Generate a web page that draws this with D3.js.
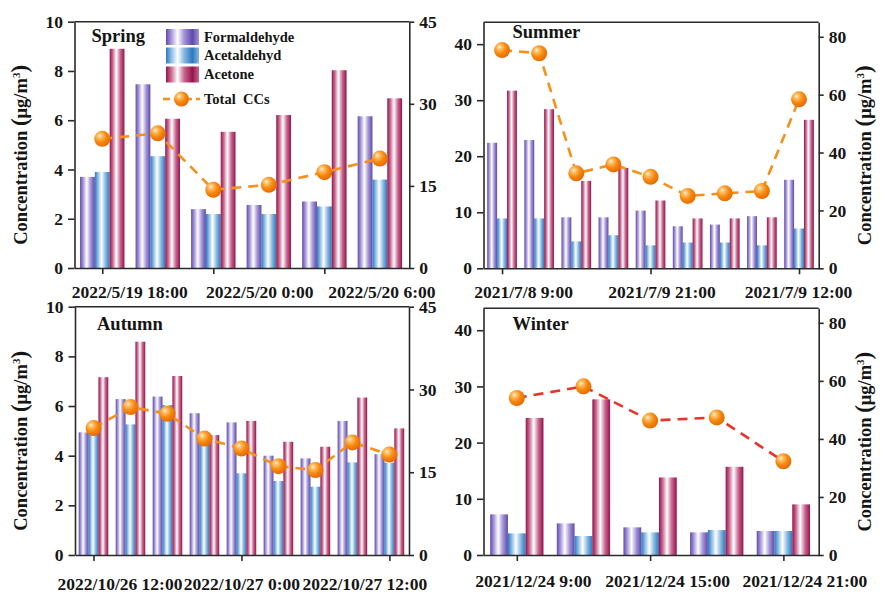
<!DOCTYPE html>
<html>
<head>
<meta charset="utf-8">
<script src="https://cdn.jsdelivr.net/npm/d3@7"></script>
<style>
  body { margin: 0; background: #fff; }
  svg text { font-family: "Liberation Serif", "Times New Roman", serif; font-weight: bold; fill: #151515; }
</style>
</head>
<body>
<svg id="chart" width="882" height="594"></svg>
<script>
// ---- Spring (2022/5/19 - 5/20) ----
const springTickLabels = ["2022/5/19 18:00", "2022/5/20 0:00", "2022/5/20 6:00"];
const springTickIndex = [0, 2, 4];
const springFormaldehyde = [3.70, 7.46, 2.39, 2.56, 2.70, 6.16];
const springAcetaldehyde = [3.90, 4.54, 2.19, 2.19, 2.50, 3.59];
const springAcetone = [8.90, 6.06, 5.53, 6.21, 8.03, 6.89];
const springTotal = [23.6, 24.6, 14.3, 15.2, 17.5, 20.0];

// ---- Summer (2021/7/8 - 7/9) ----
const summerTickLabels = ["2021/7/8 9:00", "2021/7/9 21:00", "2021/7/9 12:00"];
const summerTickIndex = [0, 4, 8];
const summerFormaldehyde = [22.4, 22.9, 9.1, 9.1, 10.3, 7.5, 7.8, 9.3, 15.8];
const summerAcetaldehyde = [8.9, 8.9, 4.8, 5.9, 4.1, 4.6, 4.6, 4.1, 7.1];
const summerAcetone = [31.7, 28.4, 15.6, 17.9, 12.1, 8.9, 8.9, 9.1, 26.5];
const summerTotal = [75.4, 74.3, 32.8, 35.9, 31.6, 25.0, 25.9, 26.7, 58.4];

// ---- Autumn (2022/10/26 - 10/27) ----
const autumnTickLabels = ["2022/10/26 12:00", "2022/10/27 0:00", "2022/10/27 12:00"];
const autumnTickIndex = [0, 4, 8];
const autumnFormaldehyde = [4.94, 6.28, 6.38, 5.71, 5.34, 4.00, 3.89, 5.40, 4.06];
const autumnAcetaldehyde = [4.90, 5.26, 6.04, 4.43, 3.29, 2.98, 2.75, 3.73, 3.72];
const autumnAcetone = [7.16, 8.59, 7.21, 4.83, 5.40, 4.56, 4.36, 6.34, 5.10];
const autumnTotal = [23.0, 26.8, 25.6, 21.1, 19.3, 16.1, 15.4, 20.4, 18.2];

// ---- Winter (2021/12/24) ----
const winterTickLabels = ["2021/12/24 9:00", "2021/12/24 15:00", "2021/12/24 21:00"];
const winterTickIndex = [0, 2, 4];
const winterFormaldehyde = [7.23, 5.63, 4.92, 4.03, 4.27];
const winterAcetaldehyde = [3.85, 3.38, 4.03, 4.44, 4.27];
const winterAcetone = [24.4, 27.7, 13.8, 15.7, 9.01];
const winterTotal = [54.1, 58.1, 46.3, 47.4, 32.3];

const seriesNames = ["Formaldehyde", "Acetaldehyd", "Acetone"];
const totalName = "Total  CCs";

// ---- styling ----
const seriesColors = ["#5f4aab", "#2c78bd", "#951449"];
const seriesMid = ["#a393d6", "#87b8e2", "#c7668f"];
const axisColor = "#2a2a2a";

const svg = d3.select("#chart");
const defs = svg.append("defs");

// horizontal shading on bars: dark edges, white centre
seriesColors.forEach((c, k) => {
  const g = defs.append("linearGradient").attr("id", "bar" + k)
    .attr("x1", 0).attr("x2", 1).attr("y1", 0).attr("y2", 0);
  [[0, c], [0.2, seriesMid[k]], [0.45, "#ffffff"], [0.72, seriesMid[k]], [1, c]]
    .forEach(([o, col]) => g.append("stop").attr("offset", o).attr("stop-color", col));
  const s = defs.append("linearGradient").attr("id", "swatch" + k)
    .attr("x1", 0).attr("x2", 1).attr("y1", 0).attr("y2", 0);
  [[0, c], [0.15, seriesMid[k]], [0.35, "#ffffff"], [0.55, seriesMid[k]], [0.8, c], [1, seriesMid[k]]]
    .forEach(([o, col]) => s.append("stop").attr("offset", o).attr("stop-color", col));
});

// glossy orange sphere for total markers
const rg = defs.append("radialGradient").attr("id", "ball")
  .attr("cx", "38%").attr("cy", "36%").attr("r", "66%").attr("fx", "34%").attr("fy", "30%");
[[0, "#fff2d8"], [0.22, "#ffbf66"], [0.6, "#f7870c"], [1, "#e36a00"]]
  .forEach(([o, col]) => rg.append("stop").attr("offset", o).attr("stop-color", col));

const panels = [
  { title: "Spring", titleDx: 17, titleY: 42,
    form: springFormaldehyde, acet: springAcetaldehyde, acetone: springAcetone, total: springTotal,
    ticks: springTickLabels, tickIndex: springTickIndex, labelNudge: [27, 46, 57], labelPad: 12,
    box: { l: 74.5, r: 409.3, t: 21.7, b: 268 },
    leftMax: 10, leftTicks: [0, 2, 4, 6, 8, 10], rightMax: 45, rightTicks: [0, 15, 30, 45],
    titleSide: "left", lineColor: "#f5901c", legend: true },
  { title: "Summer", titleDx: 29, titleY: 38,
    form: summerFormaldehyde, acet: summerAcetaldehyde, acetone: summerAcetone, total: summerTotal,
    ticks: summerTickLabels, tickIndex: summerTickIndex, labelNudge: [21, 11, -1], labelPad: 11,
    box: { l: 483.5, r: 818.7, t: 22.3, b: 268.3 },
    leftMax: 43.9, leftTicks: [0, 10, 20, 30, 40], rightMax: 85, rightTicks: [0, 20, 40, 60, 80],
    titleSide: "right", lineColor: "#f5901c" },
  { title: "Autumn", titleDx: 22, titleY: 329.5,
    form: autumnFormaldehyde, acet: autumnAcetaldehyde, acetone: autumnAcetone, total: autumnTotal,
    ticks: autumnTickLabels, tickIndex: autumnTickIndex, labelNudge: [26, 0, -25], labelPad: 17,
    box: { l: 75, r: 409, t: 306.7, b: 555 },
    leftMax: 10, leftTicks: [0, 2, 4, 6, 8, 10], rightMax: 45, rightTicks: [0, 15, 30, 45],
    titleSide: "left", lineColor: "#f5901c" },
  { title: "Winter", titleDx: 29, titleY: 330,
    form: winterFormaldehyde, acet: winterAcetaldehyde, acetone: winterAcetone, total: winterTotal,
    ticks: winterTickLabels, tickIndex: winterTickIndex, labelNudge: [16, 17, 21], labelPad: 14,
    box: { l: 483.5, r: 818.7, t: 308.3, b: 555 },
    leftMax: 43.9, leftTicks: [0, 10, 20, 30, 40], rightMax: 85, rightTicks: [0, 20, 40, 60, 80],
    titleSide: "right", lineColor: "#e8352a" }
];

const barW = 0.8 / 3;

function yTitle(g, x, y) {
  const t = g.append("text")
    .attr("transform", `translate(${x},${y}) rotate(-90)`)
    .attr("text-anchor", "middle")
    .style("font-size", "18.5px");
  t.append("tspan").text("Concentration ");
  t.append("tspan").style("font-size", "23px").text("(");
  t.append("tspan").text("μg/m");
  t.append("tspan").attr("dy", -7).style("font-size", "11px").text("3");
  t.append("tspan").attr("dy", 7).style("font-size", "23px").text(")");
}

panels.forEach(p => {
  const n = p.form.length;
  const { l, r, t, b } = p.box;
  const g = svg.append("g");

  const x = d3.scaleLinear().domain([-0.5, n - 0.47]).range([l, r]);
  const yL = d3.scaleLinear().domain([0, p.leftMax]).range([b, t]);
  const yR = d3.scaleLinear().domain([0, p.rightMax]).range([b, t]);

  // bars
  [p.form, p.acet, p.acetone].forEach((vals, k) => {
    g.append("g").selectAll("rect").data(vals).join("rect")
      .attr("x", (d, i) => x(i - 0.4 + k * barW))
      .attr("width", x(barW) - x(0))
      .attr("y", d => yL(d))
      .attr("height", d => yL(0) - yL(d))
      .attr("fill", `url(#bar${k})`);
  });

  // total carbonyls line + markers
  const line = d3.line().x((d, i) => x(i)).y(d => yR(d));
  g.append("path").datum(p.total)
    .attr("d", line).attr("fill", "none")
    .attr("stroke", p.lineColor).attr("stroke-width", 2.6)
    .attr("stroke-dasharray", "10,7");
  g.append("g").selectAll("circle").data(p.total).join("circle")
    .attr("cx", (d, i) => x(i)).attr("cy", d => yR(d)).attr("r", 8)
    .attr("fill", "url(#ball)");

  // frame top
  g.append("line").attr("x1", l).attr("x2", r).attr("y1", t).attr("y2", t)
    .attr("stroke", axisColor).attr("stroke-width", 1.5);

  const styleAxis = a => {
    a.select(".domain").attr("stroke", axisColor).attr("stroke-width", 1.6);
    a.selectAll(".tick line").attr("stroke", axisColor).attr("stroke-width", 1.6);
    a.selectAll("text").style("font-size", "17.5px").attr("fill", "#151515");
  };

  // left axis
  g.append("g").attr("transform", `translate(${l},0)`)
    .call(d3.axisLeft(yL).tickValues(p.leftTicks).tickFormat(d3.format("d"))
      .tickSize(6.5).tickSizeOuter(0).tickPadding(5))
    .call(styleAxis);

  // right axis
  g.append("g").attr("transform", `translate(${r},0)`)
    .call(d3.axisRight(yR).tickValues(p.rightTicks).tickFormat(d3.format("d"))
      .tickSize(5).tickSizeOuter(0).tickPadding(5))
    .call(styleAxis);

  // bottom axis
  const xa = g.append("g").attr("transform", `translate(0,${b})`)
    .call(d3.axisBottom(x).tickValues(p.tickIndex)
      .tickFormat((d, i) => p.ticks[i]).tickSize(6).tickSizeOuter(0).tickPadding(p.labelPad))
    .call(styleAxis);
  xa.selectAll(".tick text").attr("dx", (d, i) => p.labelNudge[i]);

  // season label
  g.append("text").attr("x", l + p.titleDx).attr("y", p.titleY)
    .style("font-size", "18.5px").text(p.title);

  // y-axis title
  const cy = (t + b) / 2 + 10;
  if (p.titleSide === "left") yTitle(g, 27, cy);
  else yTitle(g, 871, cy);

  // legend
  if (p.legend) {
    const lg = g.append("g");
    const rows = [29, 47.5, 66.5];
    seriesNames.forEach((name, k) => {
      lg.append("rect").attr("x", 166).attr("y", rows[k]).attr("width", 33).attr("height", 16)
        .attr("fill", `url(#swatch${k})`);
      lg.append("text").attr("x", 204).attr("y", rows[k] + 12.5)
        .style("font-size", "14.5px").text(name);
    });
    lg.append("line").attr("x1", 163).attr("x2", 200).attr("y1", 99).attr("y2", 99)
      .attr("stroke", p.lineColor).attr("stroke-width", 2.6).attr("stroke-dasharray", "7,4");
    lg.append("circle").attr("cx", 181.5).attr("cy", 99).attr("r", 7.5).attr("fill", "url(#ball)");
    lg.append("text").attr("x", 204).attr("y", 104).style("font-size", "14.5px")
      .attr("xml:space", "preserve").style("white-space", "pre").text(totalName);
  }
});
</script>
</body>
</html>
